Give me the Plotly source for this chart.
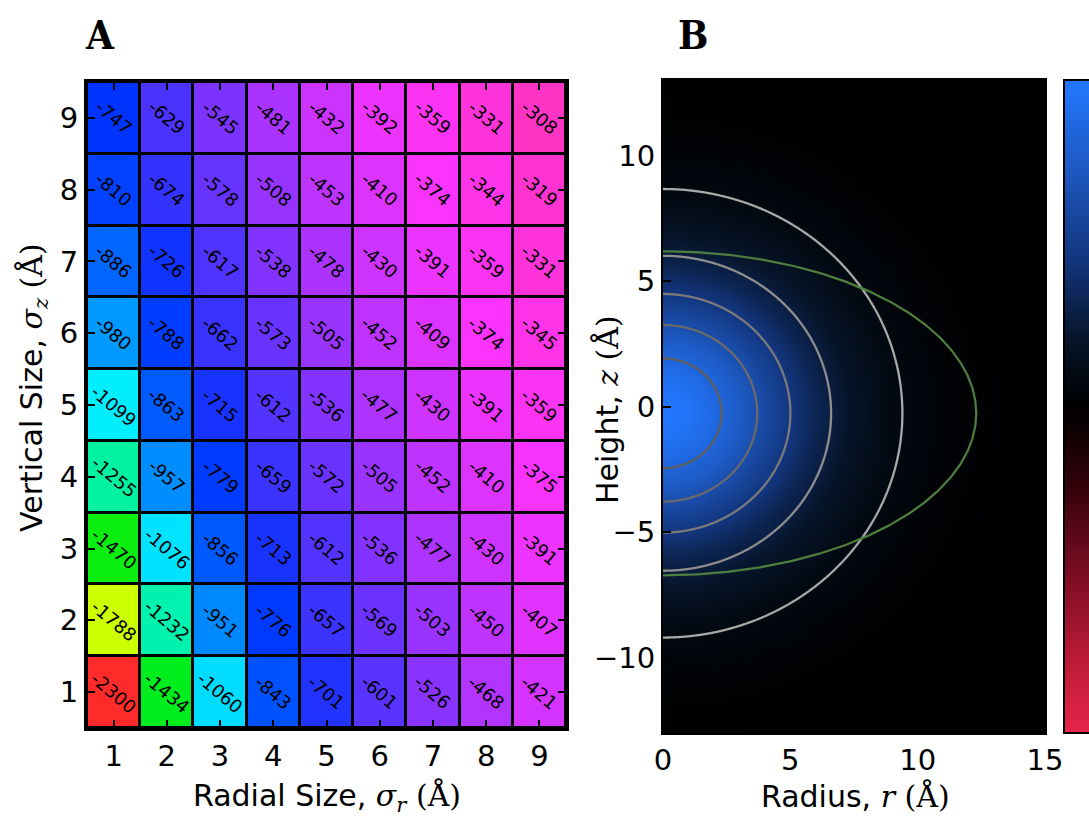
import numpy as np
import plotly.graph_objects as go

# ---------------- Panel A data ----------------
sigma_r = [1, 2, 3, 4, 5, 6, 7, 8, 9]
sigma_z = [1, 2, 3, 4, 5, 6, 7, 8, 9]
energy_z1 = [-2300, -1434, -1060, -843, -701, -601, -526, -468, -421]
energy_z2 = [-1788, -1232, -951, -776, -657, -569, -503, -450, -407]
energy_z3 = [-1470, -1076, -856, -713, -612, -536, -477, -430, -391]
energy_z4 = [-1255, -957, -779, -659, -572, -505, -452, -410, -375]
energy_z5 = [-1099, -863, -715, -612, -536, -477, -430, -391, -359]
energy_z6 = [-980, -788, -662, -573, -505, -452, -409, -374, -345]
energy_z7 = [-886, -726, -617, -538, -478, -430, -391, -359, -331]
energy_z8 = [-810, -674, -578, -508, -453, -410, -374, -344, -319]
energy_z9 = [-747, -629, -545, -481, -432, -392, -359, -331, -308]
energy = [energy_z1, energy_z2, energy_z3, energy_z4, energy_z5,
          energy_z6, energy_z7, energy_z8, energy_z9]

# colour anchors for panel A (value -> colour)
anchor_values = [-2300, -1788, -1452, -1244, -1099, -1060, -980, -886, -810,
                 -747, -701, -674, -629, -578, -505, -432, -374, -345, -308]
anchor_colors = ['#ff2a2a', '#ccff00', '#00ee11', '#00f2a8', '#00eeff', '#00dcff',
                 '#0099ff', '#0066ff', '#0042ff', '#0033ff', '#2233ff', '#3333ff',
                 '#4a33ff', '#6633ff', '#9933ff', '#cc33ff', '#fa33ff', '#ff33e8',
                 '#ff33c4']

# ---------------- Panel B data ----------------
r_ticks = [0, 5, 10, 15]
z_ticks = [-10, -5, 0, 5, 10]
# radial brightness profile of the density (normalised)
profile_radius = [0, 1, 2, 3, 4, 5, 6, 7, 8, 9, 10, 11, 12, 13, 14, 15, 30]
profile_value = [1.0, 0.96, 0.87, 0.75, 0.60, 0.46, 0.33, 0.23, 0.155, 0.095,
                 0.057, 0.032, 0.017, 0.009, 0.004, 0.002, 0.0]
density_center_z = -0.27
density_aspect = 0.95
contour_radius = [2.3, 3.7, 5.0, 6.6, 9.4]
contour_colors = ['#5e5e5e', '#6a6a6a', '#7a7a7a', '#8e8e8e', '#a8a8a8']
ellipse_semi_r = 12.3
ellipse_semi_z = 6.45
ellipse_center_z = -0.27

# ---------------- Figure ----------------
W, H = 1089, 818
fig = go.Figure()

vmin, vmax = min(anchor_values), max(anchor_values)
cscale_a = [[(v - vmin) / (vmax - vmin), c] for v, c in zip(anchor_values, anchor_colors)]

fig.add_trace(go.Heatmap(
    x=sigma_r, y=sigma_z, z=energy, zmin=vmin, zmax=vmax,
    colorscale=cscale_a, showscale=False, xgap=3, ygap=3,
    xaxis='x', yaxis='y', hoverinfo='skip'))

annotations = []
for iz, row in zip(sigma_z, energy):
    for ir, val in zip(sigma_r, row):
        annotations.append(dict(
            x=ir, y=iz, xref='x', yref='y', text=str(val), showarrow=False,
            textangle=40, font=dict(family='DejaVu Sans', size=18, color='black')))

# Panel B field
rg = np.linspace(0, 15, 301)
zg = np.linspace(-13, 13, 521)
R, Z = np.meshgrid(rg, zg)
rho = np.sqrt(R ** 2 + ((Z - density_center_z) / density_aspect) ** 2)
field = np.interp(rho, profile_radius, profile_value)

cscale_b = [[0.0, '#e62549'], [0.12, '#b81a36'], [0.25, '#780c22'],
            [0.38, '#32020a'], [0.5, '#000000'], [0.6, '#061428'],
            [0.72, '#12347a'], [0.86, '#1d58c0'], [1.0, '#2277ff']]

fig.add_trace(go.Heatmap(
    x=rg, y=zg, z=field, zmin=-1, zmax=1, colorscale=cscale_b,
    xaxis='x2', yaxis='y2', hoverinfo='skip',
    colorbar=dict(x=1064 / W, xanchor='left', xpad=0, ypad=0,
                  y=(0.1039 + 0.9022) / 2, yanchor='middle', len=0.7983,
                  thickness=40, outlinecolor='black', outlinewidth=2,
                  showticklabels=False, ticks='')))

levels = np.interp(contour_radius, profile_radius, profile_value)
for lev, col in zip(levels, contour_colors):
    fig.add_trace(go.Contour(
        x=rg, y=zg, z=field, xaxis='x2', yaxis='y2', showscale=False,
        contours=dict(start=lev, end=lev, size=1, coloring='none'),
        line=dict(color=col, width=2.3), hoverinfo='skip'))

theta = np.linspace(-np.pi / 2, np.pi / 2, 400)
fig.add_trace(go.Scatter(
    x=ellipse_semi_r * np.cos(theta),
    y=ellipse_center_z + ellipse_semi_z * np.sin(theta),
    mode='lines', line=dict(color='#4f7f3f', width=2.2),
    xaxis='x2', yaxis='y2', hoverinfo='skip', showlegend=False))

serif_span = "<span style='font-family:DejaVu Serif'>"
label_font = dict(family='DejaVu Serif Condensed, Liberation Serif, serif', size=40, color='black')
annotations.append(dict(x=100 / W, y=1 - 35 / H, xref='paper', yref='paper',
                        xanchor='center', yanchor='middle',
                        text='<b>A</b>', showarrow=False, font=label_font))
annotations.append(dict(x=693 / W, y=1 - 35 / H, xref='paper', yref='paper',
                        xanchor='center', yanchor='middle',
                        text='<b>B</b>', showarrow=False, font=label_font))

# axis titles (placed as paper annotations)
title_font = dict(family='DejaVu Sans', size=30, color='black')
axis_titles = [
    ('Radial Size, ' + serif_span + '<i>σ</i><sub><i>r</i></sub> (Å)</span>', 327, 797, 0),
    ('Vertical Size, ' + serif_span + '<i>σ</i><sub><i>z</i></sub> (Å)</span>', 33, 388, -90),
    ('Radius, ' + serif_span + '<i>r</i> (Å)</span>', 855, 796, 0),
    ('Height, ' + serif_span + '<i>z</i> (Å)</span>', 607, 410, -90),
]
for txt, px, py, ang in axis_titles:
    annotations.append(dict(x=px / W, y=1 - py / H, xref='paper', yref='paper',
                            xanchor='center', yanchor='middle', textangle=ang,
                            text=txt, showarrow=False, font=title_font))

axis_common = dict(ticks='inside', ticklen=8, tickwidth=1.5, tickcolor='black',
                   showline=True, linecolor='black', mirror='ticks',
                   showgrid=False, zeroline=False, automargin=False,
                   tickfont=dict(family='DejaVu Sans', size=29, color='black'))

fig.update_layout(
    template='none',
    width=W, height=H, margin=dict(l=0, r=0, t=0, b=0, autoexpand=False),
    paper_bgcolor='white', plot_bgcolor='black', showlegend=False,
    font=dict(family='DejaVu Sans', color='black'),
    xaxis=dict(domain=[87 / W, 566 / W], range=[0.5, 9.5], tickvals=sigma_r,
               anchor='y', linewidth=3, **axis_common),
    yaxis=dict(domain=[1 - 728 / H, 1 - 82 / H], range=[0.5, 9.5], tickvals=sigma_z,
               anchor='x', linewidth=3, **axis_common),
    xaxis2=dict(domain=[663 / W, 1045 / W], range=[0, 15], tickvals=r_ticks,
                anchor='y2', linewidth=2, **axis_common),
    yaxis2=dict(domain=[1 - 733 / H, 1 - 80 / H], range=[-13, 13], tickvals=z_ticks,
                anchor='x2', linewidth=2, **axis_common),
    annotations=annotations,
)

fig.write_html('out.html')
